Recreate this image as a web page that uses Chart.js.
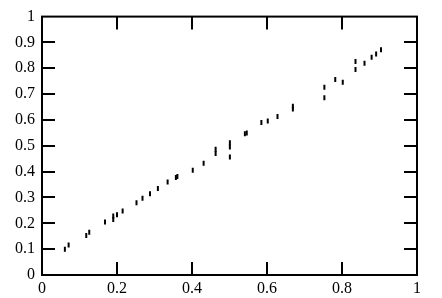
<!DOCTYPE html>
<html>
<head>
<meta charset="utf-8">
<script src="https://cdn.jsdelivr.net/npm/chart.js@4"></script>
<style>
  html, body { margin: 0; padding: 0; background: #fff; }
  #wrap { width: 442px; height: 298px; }
</style>
</head>
<body>
<div id="wrap"><canvas id="plot"></canvas></div>
<script>
// values
const xs = [0.061, 0.071, 0.118, 0.126, 0.168, 0.190, 0.190, 0.200, 0.215, 0.252, 0.268,
  0.288, 0.309, 0.335, 0.357, 0.361, 0.402, 0.431, 0.463, 0.463, 0.501, 0.501, 0.501,
  0.541, 0.546, 0.585, 0.602, 0.628, 0.669, 0.669, 0.753, 0.753, 0.782, 0.802, 0.836,
  0.836, 0.860, 0.879, 0.891, 0.904];
const ys = [0.100, 0.116, 0.153, 0.165, 0.205, 0.215, 0.228, 0.233, 0.248, 0.280, 0.297,
  0.314, 0.335, 0.360, 0.377, 0.381, 0.405, 0.432, 0.470, 0.487, 0.495, 0.512, 0.457,
  0.547, 0.550, 0.590, 0.596, 0.613, 0.642, 0.653, 0.686, 0.727, 0.757, 0.746, 0.826,
  0.795, 0.819, 0.843, 0.855, 0.872];
const xTicks = [0, 0.2, 0.4, 0.6, 0.8, 1];
const yTicks = [0, 0.1, 0.2, 0.3, 0.4, 0.5, 0.6, 0.7, 0.8, 0.9, 1];

const points = xs.map((x, i) => ({ x: x, y: ys[i] }));

// frame with inward ticks on all four sides
const frameTicks = {
  id: "frameTicks",
  afterDraw(chart) {
    const { ctx, chartArea: a, scales } = chart;
    const len = 13;
    ctx.save();
    ctx.strokeStyle = "#000";
    ctx.lineWidth = 2;
    ctx.strokeRect(a.left, a.top, a.right - a.left, a.bottom - a.top);
    ctx.beginPath();
    xTicks.slice(1, -1).forEach(v => {
      const px = Math.round(scales.x.getPixelForValue(v));
      ctx.moveTo(px, a.bottom); ctx.lineTo(px, a.bottom - len);
      ctx.moveTo(px, a.top); ctx.lineTo(px, a.top + len);
    });
    yTicks.slice(1, -1).forEach(v => {
      const py = Math.round(scales.y.getPixelForValue(v));
      ctx.moveTo(a.left, py); ctx.lineTo(a.left + len, py);
      ctx.moveTo(a.right, py); ctx.lineTo(a.right - len, py);
    });
    ctx.stroke();
    ctx.restore();
  }
};

Chart.defaults.font.family = "'Liberation Serif', 'Times New Roman', serif";
Chart.defaults.font.size = 16;
Chart.defaults.color = "#000";

new Chart(document.getElementById("plot"), {
  type: "scatter",
  data: {
    datasets: [{
      data: points,
      pointStyle: "line",
      rotation: 90,
      radius: 2.5,
      borderWidth: 2,
      borderColor: "#000",
      backgroundColor: "#000"
    }]
  },
  options: {
    responsive: true,
    maintainAspectRatio: false,
    animation: false,
    layout: { padding: { top: 13, right: 25, left: 0, bottom: 0 } },
    plugins: { legend: { display: false }, tooltip: { enabled: false } },
    scales: {
      x: {
        type: "linear",
        min: 0, max: 1,
        afterBuildTicks: s => { s.ticks = xTicks.map(v => ({ value: v })); },
        afterFit: s => { s.height = 23; },
        grid: { display: false, drawTicks: false },
        border: { display: false },
        ticks: { padding: 4, maxRotation: 0, callback: v => String(v) }
      },
      y: {
        type: "linear",
        min: 0, max: 1,
        afterBuildTicks: s => { s.ticks = yTicks.map(v => ({ value: v })); },
        afterFit: s => { s.width = 42; },
        grid: { display: false, drawTicks: false },
        border: { display: false },
        ticks: { padding: 7, callback: v => String(v) }
      }
    }
  },
  plugins: [frameTicks]
});
</script>
</body>
</html>
